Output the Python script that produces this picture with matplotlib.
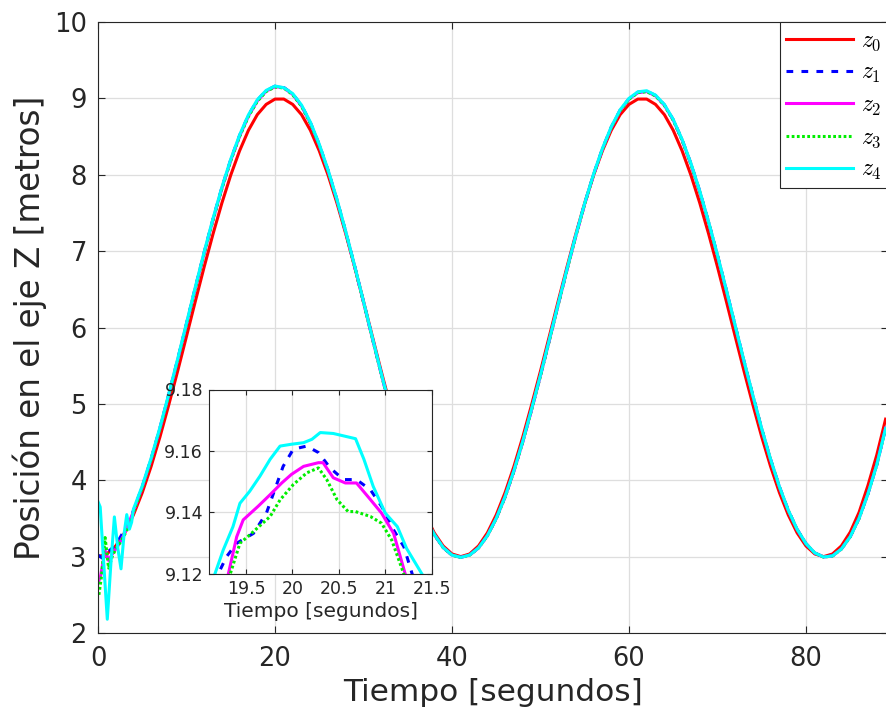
import matplotlib
matplotlib.use('Agg')
import matplotlib.pyplot as plt

plt.rcParams['font.family'] = ['DejaVu Sans']
plt.rcParams['mathtext.fontset'] = 'cm'

# ---------------- data ----------------
T = list(range(4, 90))

z0_t0 = [0, 1, 2, 3]
z0_v0 = [3.0, 3.035, 3.14, 3.311]
z0 = [3.546, 3.838, 4.181, 4.567, 4.989, 5.429, 5.885, 6.344, 6.795, 7.226,
      7.630, 7.995, 8.314, 8.582, 8.787, 8.921, 8.991, 8.991, 8.921, 8.787,
      8.582, 8.314, 7.995, 7.630, 7.226, 6.795, 6.344, 5.885, 5.429, 4.989,
      4.567, 4.181, 3.838, 3.546, 3.311, 3.140, 3.035, 3.000, 3.035, 3.140,
      3.311, 3.546, 3.838, 4.181, 4.567, 4.989, 5.429, 5.885, 6.344, 6.795,
      7.226, 7.630, 7.995, 8.314, 8.582, 8.787, 8.921, 8.991, 8.991, 8.921,
      8.787, 8.582, 8.314, 7.995, 7.630, 7.226, 6.795, 6.344, 5.885, 5.429,
      4.989, 4.567, 4.181, 3.838, 3.546, 3.311, 3.140, 3.035, 3.000, 3.035,
      3.140, 3.320, 3.580, 3.930, 4.330, 4.800]

z1_t0 = [0, 0.5, 1, 1.5, 2, 2.5, 3, 3.5]
z1_v0 = [3.02, 2.98, 3.05, 3.10, 3.16, 3.25, 3.35, 3.47]
z1 = [3.600, 3.915, 4.278, 4.683, 5.124, 5.580, 6.050, 6.523, 6.984, 7.422,
      7.831, 8.197, 8.514, 8.778, 8.975, 9.100, 9.160, 9.142, 9.058, 8.906,
      8.682, 8.394, 8.056, 7.672, 7.250, 6.802, 6.336, 5.864, 5.398, 4.950,
      4.522, 4.134, 3.793, 3.505, 3.289, 3.120, 3.021, 2.992, 3.022, 3.115,
      3.276, 3.500, 3.785, 4.124, 4.507, 4.930, 5.373, 5.836, 6.302, 6.763,
      7.206, 7.624, 8.004, 8.339, 8.623, 8.845, 8.994, 9.080, 9.094, 9.038,
      8.915, 8.720, 8.459, 8.145, 7.782, 7.378, 6.945, 6.489, 6.023, 5.557,
      5.106, 4.671, 4.272, 3.913, 3.606, 3.356, 3.170, 3.048, 2.995, 3.011,
      3.101, 3.262, 3.503, 3.824, 4.205, 4.685]

z2_t0 = [0, 0.3, 0.8, 1.2, 1.7, 2.3, 3.0, 3.5]
z2_v0 = [2.65, 2.75, 3.08, 2.95, 3.05, 3.15, 3.30, 3.45]
z2 = [3.590, 3.910, 4.272, 4.676, 5.117, 5.573, 6.043, 6.515, 6.975, 7.413,
      7.822, 8.188, 8.505, 8.769, 8.966, 9.095, 9.152, 9.140, 9.052, 8.900,
      8.676, 8.388, 8.050, 7.667, 7.245, 6.798, 6.333, 5.861, 5.395, 4.948,
      4.520, 4.132, 3.792, 3.504, 3.288, 3.119, 3.020, 2.991, 3.021, 3.114,
      3.275, 3.498, 3.782, 4.120, 4.503, 4.926, 5.369, 5.831, 6.297, 6.758,
      7.201, 7.619, 7.999, 8.334, 8.618, 8.840, 8.990, 9.076, 9.090, 9.034,
      8.911, 8.716, 8.455, 8.141, 7.778, 7.375, 6.942, 6.486, 6.020, 5.554,
      5.104, 4.669, 4.270, 3.911, 3.604, 3.355, 3.169, 3.047, 2.994, 3.010,
      3.100, 3.261, 3.502, 3.822, 4.203, 4.683]

z3_t0 = [0.1, 0.4, 0.8, 1.2, 1.6, 2.0, 2.6, 3.2, 3.7]
z3_v0 = [2.50, 2.75, 3.25, 2.85, 3.00, 3.10, 3.20, 3.33, 3.45]
z3 = [3.580, 3.905, 4.268, 4.672, 5.112, 5.568, 6.038, 6.510, 6.970, 7.408,
      7.817, 8.183, 8.500, 8.764, 8.961, 9.090, 9.149, 9.136, 9.048, 8.897,
      8.673, 8.386, 8.048, 7.665, 7.243, 6.796, 6.331, 5.859, 5.393, 4.946,
      4.518, 4.130, 3.791, 3.503, 3.287, 3.118, 3.019, 2.990, 3.020, 3.113,
      3.274, 3.497, 3.780, 4.118, 4.501, 4.924, 5.367, 5.829, 6.295, 6.756,
      7.199, 7.617, 7.997, 8.332, 8.616, 8.838, 8.988, 9.074, 9.088, 9.032,
      8.909, 8.714, 8.453, 8.139, 7.776, 7.373, 6.940, 6.484, 6.018, 5.552,
      5.102, 4.667, 4.268, 3.909, 3.603, 3.354, 3.168, 3.046, 2.993, 3.009,
      3.099, 3.260, 3.501, 3.821, 4.202, 4.682]

z4_t0 = [0, 0.25, 0.6, 1.05, 1.45, 1.85, 2.25, 2.6, 2.95, 3.25, 3.55, 3.8]
z4_v0 = [3.72, 3.65, 3.00, 2.18, 2.90, 3.52, 3.10, 2.84, 3.30, 3.55, 3.36, 3.45]
z4 = [3.620, 3.927, 4.289, 4.693, 5.133, 5.589, 6.059, 6.531, 6.991, 7.429,
      7.838, 8.204, 8.521, 8.785, 8.982, 9.105, 9.162, 9.140, 9.063, 8.913,
      8.689, 8.401, 8.063, 7.679, 7.257, 6.809, 6.343, 5.870, 5.403, 4.955,
      4.527, 4.138, 3.796, 3.507, 3.290, 3.120, 3.020, 2.990, 3.021, 3.114,
      3.275, 3.501, 3.787, 4.127, 4.511, 4.935, 5.378, 5.841, 6.308, 6.769,
      7.212, 7.630, 8.010, 8.345, 8.629, 8.851, 9.000, 9.086, 9.100, 9.043,
      8.920, 8.725, 8.464, 8.150, 7.787, 7.383, 6.950, 6.494, 6.028, 5.562,
      5.111, 4.676, 4.276, 3.917, 3.609, 3.358, 3.171, 3.049, 2.995, 3.010,
      3.100, 3.260, 3.500, 3.820, 4.200, 4.680]

# inset (zoom around the first peak)
in_t1 = [19.17, 19.20, 19.29, 19.40, 19.58, 19.72, 19.81, 19.90, 20.01, 20.155,
         20.28, 20.406, 20.55, 20.69, 20.84, 20.96, 21.09, 21.20, 21.29, 21.32]
in_z1 = [9.117, 9.120, 9.1256, 9.1300, 9.1332, 9.1398, 9.1474, 9.1550, 9.1606, 9.1616,
         9.1595, 9.1545, 9.1507, 9.1507, 9.1474, 9.1420, 9.1343, 9.1289, 9.1200, 9.117]
in_t2 = [19.28, 19.31, 19.40, 19.47, 19.63, 19.76, 19.885, 19.99, 20.12, 20.28,
         20.33, 20.44, 20.57, 20.69, 20.84, 20.96, 21.09, 21.215, 21.24]
in_z2 = [9.117, 9.120, 9.1321, 9.1376, 9.1420, 9.1458, 9.1496, 9.1524, 9.1550, 9.1562,
         9.1562, 9.1513, 9.1496, 9.1496, 9.1442, 9.1398, 9.1332, 9.1200, 9.117]
in_t3 = [19.30, 19.33, 19.435, 19.54, 19.76, 19.867, 20.01, 20.155, 20.28, 20.37,
         20.48, 20.60, 20.68, 20.84, 20.96, 21.07, 21.20, 21.23]
in_z3 = [9.117, 9.120, 9.1300, 9.1327, 9.1387, 9.1441, 9.1491, 9.1529, 9.1545, 9.1507,
         9.1442, 9.1403, 9.1403, 9.1387, 9.1365, 9.1310, 9.1200, 9.117]
in_t4 = [19.10, 19.165, 19.255, 19.36, 19.435, 19.54, 19.65, 19.76, 19.867, 19.99,
         20.12, 20.21, 20.30, 20.44, 20.68, 20.77, 20.87, 21.00, 21.13, 21.23,
         21.395, 21.45]
in_z4 = [9.113, 9.120, 9.1278, 9.1354, 9.1430, 9.1469, 9.1518, 9.1573, 9.1616, 9.1622,
         9.1627, 9.1638, 9.1660, 9.1657, 9.1640, 9.1573, 9.1485, 9.1398, 9.1354, 9.1283,
         9.1200, 9.117]

labels = ['$z_0$', '$z_1$', '$z_2$', '$z_3$', '$z_4$']
xticks_main = [0, 20, 40, 60, 80]
yticks_main = [2, 3, 4, 5, 6, 7, 8, 9, 10]
xticks_in = [19.5, 20, 20.5, 21, 21.5]
xticklabels_in = ['19.5', '20', '20.5', '21', '21.5']
yticks_in = [9.12, 9.14, 9.16, 9.18]
yticklabels_in = ['9.12', '9.14', '9.16', '9.18']

# ---------------- styles ----------------
DARK = '#262626'
GRID = '#dedede'
LW = 2.2
styles = [
    dict(color='#ff0000', ls='-'),
    dict(color='#0000ff', ls=(0, (2.2, 2.7))),
    dict(color='#ff00ff', ls='-'),
    dict(color='#00ee00', ls=(0, (0.9, 0.8))),
    dict(color='#00ffff', ls='-'),
]

W, H = 886, 723
fig = plt.figure(figsize=(W / 100, H / 100), dpi=100)

ax = fig.add_axes([98 / W, 1 - 633 / H, (888 - 98) / W, (633 - 22) / H])
series = [(z0_t0 + T, z0_v0 + z0), (z1_t0 + T, z1_v0 + z1), (z2_t0 + T, z2_v0 + z2),
          (z3_t0 + T, z3_v0 + z3), (z4_t0 + T, z4_v0 + z4)]
lines = []
for (tt, vv), st, lab in zip(series, styles, labels):
    ln, = ax.plot(tt, vv, color=st['color'], linestyle=st['ls'], lw=LW, label=lab)
    lines.append(ln)

ax.set_xlim(0, 89.27)
ax.set_ylim(2, 10)
ax.set_xticks(xticks_main)
ax.set_yticks(yticks_main)
ax.grid(True, color=GRID, lw=0.9)
ax.set_axisbelow(True)
ax.tick_params(direction='in', top=True, right=True, length=5, width=0.8,
               color=DARK, labelcolor=DARK, labelsize=18.5)
ax.tick_params(axis='x', pad=9.5)
ax.tick_params(axis='y', pad=8)
for sp in ax.spines.values():
    sp.set_color(DARK)
    sp.set_linewidth(0.8)
ax.set_xlabel('Tiempo [segundos]', fontsize=22.5, color=DARK, labelpad=4)
ax.set_ylabel('Posición en el eje Z [metros]', fontsize=23.5, color=DARK, labelpad=5)

leg = ax.legend(handles=lines, loc='upper right', bbox_to_anchor=(1.0, 1.0),
                borderaxespad=0, fontsize=17, fancybox=False, framealpha=1,
                edgecolor=DARK, handlelength=2.85, handletextpad=0.35,
                labelspacing=0.31, borderpad=0.25)
leg.get_frame().set_linewidth(0.8)

# ---------------- inset ----------------
axin = fig.add_axes([209.3 / W, 1 - 574 / H, (431.7 - 209.3) / W, (574 - 389.5) / H])
axin.set_facecolor('white')
ins = [(in_t1, in_z1), (in_t2, in_z2), (in_t3, in_z3), (in_t4, in_z4)]
for (tt, vv), st in zip(ins, styles[1:]):
    axin.plot(tt, vv, color=st['color'], linestyle=st['ls'], lw=LW)
axin.set_xlim(19.105, 21.5)
axin.set_ylim(9.12, 9.18)
axin.set_xticks(xticks_in)
axin.set_xticklabels(xticklabels_in)
axin.set_yticks(yticks_in)
axin.set_yticklabels(yticklabels_in)
axin.grid(True, color=GRID, lw=0.9)
axin.set_axisbelow(True)
axin.tick_params(direction='in', top=True, right=True, length=3.5, width=0.8,
                 color=DARK, labelcolor=DARK, labelsize=12.5, pad=4.5)
for sp in axin.spines.values():
    sp.set_color(DARK)
    sp.set_linewidth(0.8)
axin.set_xlabel('Tiempo [segundos]', fontsize=14.5, color=DARK, labelpad=3)

fig.savefig('out.png', dpi=100)
